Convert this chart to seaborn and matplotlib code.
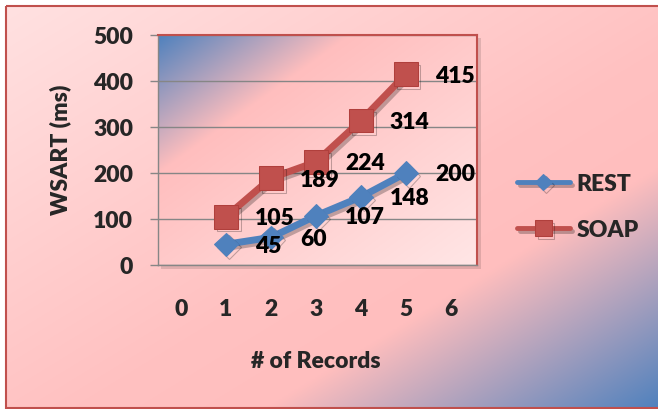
import numpy as np
import pandas as pd
import matplotlib
matplotlib.use("Agg")
import matplotlib.pyplot as plt
import matplotlib.patheffects as pe
from matplotlib.patches import Rectangle
import seaborn as sns

# ---- data ----
records = [1, 2, 3, 4, 5]
rest_ms = [45, 60, 107, 148, 200]
soap_ms = [105, 189, 224, 314, 415]
x_ticks = [0, 1, 2, 3, 4, 5, 6]
y_ticks = [0, 100, 200, 300, 400, 500]
series_names = ["REST", "SOAP"]

BLUE = "#4F81BD"
RED = "#C0504D"
GRID = "#868686"

sns.set_style("white")
plt.rcParams["font.family"] = ["Lato", "DejaVu Sans"]
plt.rcParams["font.weight"] = "heavy"
FS = 16.5
WT = "heavy"

W, H = 658, 410
fig = plt.figure(figsize=(W / 100, H / 100), dpi=100)


def gradient(h, w, stops, cols):
    u = np.linspace(0, 1, w)[None, :]
    v = np.linspace(0, 1, h)[:, None]
    t = (u + v) / 2
    cols = np.array(cols, dtype=float) / 255
    img = np.zeros((h, w, 3))
    for c in range(3):
        img[..., c] = np.interp(t, stops, cols[:, c])
    return img


# figure background
bg = fig.add_axes([0, 0, 1, 1], zorder=-10)
bg.imshow(gradient(200, 320, [0, 0.55, 0.7, 1.0],
                   [(255, 225, 225), (255, 193, 193), (255, 190, 190), (79, 129, 189)]),
          extent=[6, W + 4, 409, 7], aspect="auto", interpolation="bilinear")
bg.add_patch(Rectangle((6, 7), W, 402, fill=False, ec=RED, lw=1.5))
bg.add_patch(Rectangle((161, 39), 320, 231, fc="k", alpha=0.12, lw=0))
bg.set_xlim(0, W)
bg.set_ylim(H, 0)
bg.axis("off")

pos = [158 / W, (H - 266) / H, 319 / W, 230 / H]
pa = fig.add_axes(pos, zorder=0)
pa.imshow(gradient(200, 300, [0, 0.3, 1.0],
                   [(79, 129, 189), (255, 190, 190), (255, 230, 230)]),
          extent=[0, 1, 0, 1], aspect="auto", interpolation="bilinear")
pa.axis("off")

ax = fig.add_axes(pos, zorder=1)
ax.patch.set_alpha(0)

shadow = [pe.SimpleLineShadow(offset=(2, -2), alpha=0.25, shadow_color="k"), pe.Normal()]
df_rest = pd.DataFrame({"Records": records, "WSART": rest_ms})
df_soap = pd.DataFrame({"Records": records, "WSART": soap_ms})
sns.lineplot(data=df_rest, x="Records", y="WSART", ax=ax, color=BLUE, marker="D",
             markersize=12, markeredgecolor=BLUE, linewidth=5, label=series_names[0],
             path_effects=shadow)
sns.lineplot(data=df_soap, x="Records", y="WSART", ax=ax, color=RED, marker="s",
             markersize=17, markeredgecolor="#B03F3C", linewidth=5, label=series_names[1],
             path_effects=shadow)

for xs, ys in ((records, rest_ms), (records, soap_ms)):
    for x, y in zip(xs, ys):
        ax.annotate(str(y), (x, y), xytext=(29, -1), textcoords="offset pixels",
                    ha="left", va="center", fontsize=FS, fontweight=WT,
                    color="black", zorder=6)

ax.set_xlim(-0.51, 6.58)
ax.set_ylim(0, 500)
ax.set_xticks(x_ticks)
ax.set_yticks(y_ticks)
ax.yaxis.grid(True, color=GRID, lw=1)
ax.xaxis.grid(False)
ax.set_axisbelow(True)
for s in ("left", "bottom"):
    ax.spines[s].set_color(GRID)
    ax.spines[s].set_linewidth(1)
for s in ("top", "right"):
    ax.spines[s].set_color(RED)
    ax.spines[s].set_linewidth(1.5)
ax.tick_params(axis="y", length=5.8, width=1, color=GRID, pad=12, labelsize=FS, left=True)
ax.tick_params(axis="x", length=0, pad=24, labelsize=FS)
for lab in ax.get_xticklabels() + ax.get_yticklabels():
    lab.set_fontweight(WT)

ax.set_ylabel("WSART (ms)", fontsize=FS, fontweight=WT)
ax.yaxis.set_label_coords(-0.307, 0.504)
ax.yaxis.label.set_va("center")
ax.set_xlabel("# of Records", fontsize=FS, fontweight=WT)
ax.xaxis.set_label_coords(0.495, -0.417)
ax.xaxis.label.set_va("center")

leg = ax.legend(loc="center left", bbox_to_anchor=(517 / W, 1 - 207.5 / H),
                bbox_transform=fig.transFigure, frameon=False,
                prop={"size": FS, "weight": WT},
                handlelength=2.3, handletextpad=0.3, labelspacing=1.1,
                borderpad=0, borderaxespad=0, markerscale=0.7)
for ln in leg.get_lines():
    ln.set_linewidth(3.5)

fig.savefig("out.png", dpi=100)
